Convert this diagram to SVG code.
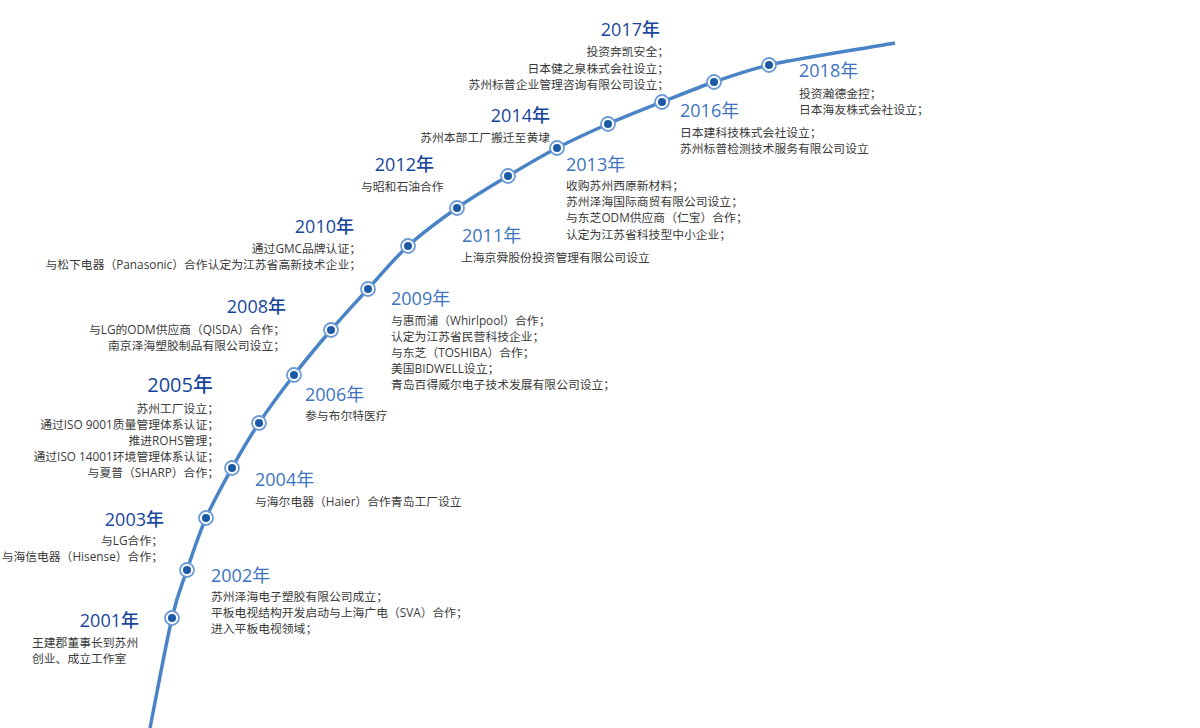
<svg xmlns="http://www.w3.org/2000/svg" width="1200" height="728" viewBox="0 0 1200 728">
<style>
.line{fill:none;stroke:#4a84c6;stroke-width:3.5}
.ring{fill:#fff;stroke:#6d9bd5;stroke-width:1.8}
.dot{fill:#1c5aa6}
.yl{font-family:"Open Sans","Noto Sans CJK SC",sans-serif;font-size:18px;font-weight:500;fill:#17479a;text-anchor:end}
.yr{font-family:"Open Sans","Noto Sans CJK SC",sans-serif;font-size:18px;fill:#3d74bf}
.d{font-family:"Open Sans","Noto Sans CJK SC",sans-serif;font-size:11.8px;fill:#3a3a3a}
.e{text-anchor:end}
</style>
<rect width="1200" height="728" fill="#fff"/>
<g id="connectors">
<path class="line" d="M150,728 C157.3,691.3 165.8,644.3 172,618 C178.2,591.7 181.3,586.7 187,570 C192.7,553.3 198.5,535 206,518 C213.5,501 223.2,483.8 232,468 C240.8,452.2 248.7,438.5 259,423 C269.3,407.5 282,390.5 294,375 C306,359.5 318.7,344.3 331,330 C343.3,315.7 355.2,303 368,289 C380.8,275 393.2,259.5 408,246 C422.8,232.5 440.3,219.7 457,208 C473.7,196.3 491.3,186 508,176 C524.7,166 540.3,156.7 557,148 C573.7,139.3 590.5,131.7 608,124 C625.5,116.3 644.3,109 662,102 C679.7,95 696.2,88.2 714,82 C731.8,75.8 748,70 769,65 C790,60 853,50.3 895,43"/>
</g>
<g id="n2001">
<circle class="ring" cx="172" cy="618" r="7"/><circle class="dot" cx="172" cy="618" r="4"/>
<text class="yl" x="139" y="627">2001年</text>
<text class="d" x="32" y="647">王建郡董事长到苏州</text>
<text class="d" x="32" y="663">创业、成立工作室</text>
</g>
<g id="n2002">
<circle class="ring" cx="187" cy="570" r="7"/><circle class="dot" cx="187" cy="570" r="4"/>
<text class="yr" x="211" y="582">2002年</text>
<text class="d" x="211" y="601">苏州泽海电子塑胶有限公司成立；</text>
<text class="d" x="211" y="617">平板电视结构开发启动与上海广电（SVA）合作；</text>
<text class="d" x="211" y="633">进入平板电视领域；</text>
</g>
<g id="n2003">
<circle class="ring" cx="206" cy="518" r="7"/><circle class="dot" cx="206" cy="518" r="4"/>
<text class="yl" x="164" y="526">2003年</text>
<text class="d e" x="163" y="545">与LG合作；</text>
<text class="d e" x="163" y="561">与海信电器（Hisense）合作；</text>
</g>
<g id="n2004">
<circle class="ring" cx="232" cy="468" r="7"/><circle class="dot" cx="232" cy="468" r="4"/>
<text class="yr" x="255" y="486">2004年</text>
<text class="d" x="255" y="506">与海尔电器（Haier）合作青岛工厂设立</text>
</g>
<g id="n2005">
<circle class="ring" cx="259" cy="423" r="7"/><circle class="dot" cx="259" cy="423" r="4"/>
<text class="yl" x="213" y="392" style="font-size:20px">2005年</text>
<text class="d e" x="219" y="413">苏州工厂设立；</text>
<text class="d e" x="219" y="429">通过ISO 9001质量管理体系认证；</text>
<text class="d e" x="219" y="445">推进ROHS管理；</text>
<text class="d e" x="219" y="461">通过ISO 14001环境管理体系认证；</text>
<text class="d e" x="219" y="477">与夏普（SHARP）合作；</text>
</g>
<g id="n2006">
<circle class="ring" cx="294" cy="375" r="7"/><circle class="dot" cx="294" cy="375" r="4"/>
<text class="yr" x="305" y="401">2006年</text>
<text class="d" x="305" y="420">参与布尔特医疗</text>
</g>
<g id="n2008">
<circle class="ring" cx="331" cy="330" r="7"/><circle class="dot" cx="331" cy="330" r="4"/>
<text class="yl" x="286" y="313">2008年</text>
<text class="d e" x="285" y="334">与LG的ODM供应商（QISDA）合作；</text>
<text class="d e" x="285" y="350">南京泽海塑胶制品有限公司设立；</text>
</g>
<g id="n2009">
<circle class="ring" cx="368" cy="289" r="7"/><circle class="dot" cx="368" cy="289" r="4"/>
<text class="yr" x="391" y="305">2009年</text>
<text class="d" x="391" y="325">与惠而浦（Whirlpool）合作；</text>
<text class="d" x="391" y="341">认定为江苏省民营科技企业；</text>
<text class="d" x="391" y="357">与东芝（TOSHIBA）合作；</text>
<text class="d" x="391" y="373">美国BIDWELL设立；</text>
<text class="d" x="391" y="389">青岛百得威尔电子技术发展有限公司设立；</text>
</g>
<g id="n2010">
<circle class="ring" cx="408" cy="246" r="7"/><circle class="dot" cx="408" cy="246" r="4"/>
<text class="yl" x="354" y="233">2010年</text>
<text class="d e" x="361" y="253">通过GMC品牌认证；</text>
<text class="d e" x="361" y="269">与松下电器（Panasonic）合作认定为江苏省高新技术企业；</text>
</g>
<g id="n2011">
<circle class="ring" cx="457" cy="208" r="7"/><circle class="dot" cx="457" cy="208" r="4"/>
<text class="yr" x="462" y="242">2011年</text>
<text class="d" x="461" y="262">上海京舜股份投资管理有限公司设立</text>
</g>
<g id="n2012">
<circle class="ring" cx="508" cy="176" r="7"/><circle class="dot" cx="508" cy="176" r="4"/>
<text class="yl" x="434" y="171">2012年</text>
<text class="d" x="361" y="191">与昭和石油合作</text>
</g>
<g id="n2013">
<circle class="ring" cx="608" cy="124" r="7"/><circle class="dot" cx="608" cy="124" r="4"/>
<text class="yr" x="566" y="171">2013年</text>
<text class="d" x="566" y="190">收购苏州西原新材料；</text>
<text class="d" x="566" y="206">苏州泽海国际商贸有限公司设立；</text>
<text class="d" x="566" y="222">与东芝ODM供应商（仁宝）合作；</text>
<text class="d" x="566" y="239">认定为江苏省科技型中小企业；</text>
</g>
<g id="n2014">
<circle class="ring" cx="557" cy="148" r="7"/><circle class="dot" cx="557" cy="148" r="4"/>
<text class="yl" x="550" y="122">2014年</text>
<text class="d e" x="550" y="142">苏州本部工厂搬迁至黄埭</text>
</g>
<g id="n2016">
<circle class="ring" cx="662" cy="102" r="7"/><circle class="dot" cx="662" cy="102" r="4"/>
<text class="yr" x="680" y="117">2016年</text>
<text class="d" x="680" y="137">日本建科技株式会社设立；</text>
<text class="d" x="680" y="153">苏州标普检测技术服务有限公司设立</text>
</g>
<g id="n2017">
<circle class="ring" cx="714" cy="82" r="7"/><circle class="dot" cx="714" cy="82" r="4"/>
<text class="yl" x="660" y="36">2017年</text>
<text class="d e" x="669" y="56">投资奔凯安全；</text>
<text class="d e" x="669" y="73">日本健之泉株式会社设立；</text>
<text class="d e" x="669" y="89">苏州标普企业管理咨询有限公司设立；</text>
</g>
<g id="n2018">
<circle class="ring" cx="769" cy="65" r="7"/><circle class="dot" cx="769" cy="65" r="4"/>
<text class="yr" x="799" y="77">2018年</text>
<text class="d" x="799" y="98">投资瀚德金控；</text>
<text class="d" x="799" y="114">日本海友株式会社设立；</text>
</g>
</svg>
